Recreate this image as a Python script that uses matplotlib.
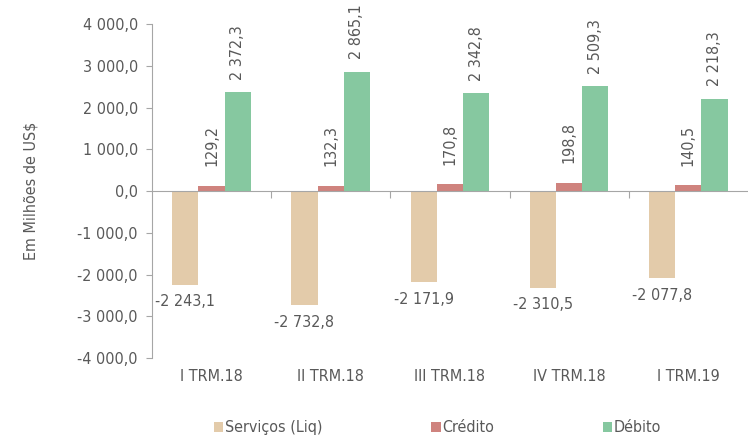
import numpy as np
import matplotlib
matplotlib.use("Agg")
import matplotlib.pyplot as plt
from matplotlib.ticker import FuncFormatter

plt.rcParams['font.family'] = ['DejaVu Sans']
plt.rcParams['font.stretch'] = 'condensed'

#------------------------------------------------------------------
categories = ["I TRM.18", "II TRM.18", "III TRM.18", "IV TRM.18", "I TRM.19"]
servicos   = [-2243.1, -2732.8, -2171.9, -2310.5, -2077.8]
credito    = [129.2, 132.3, 170.8, 198.8, 140.5]
debito     = [2372.3, 2865.1, 2342.8, 2509.3, 2218.3]

c_serv = "#E3CBAA"
c_cred = "#CF837E"
c_deb  = "#86C8A0"
txt    = "#595959"
axcol  = "#A6A6A6"
fs     = 11.5

#------------------------------------------------------------------
def fmt(v, decimals=1):
    s = f"{abs(v):,.{decimals}f}".replace(",", " ").replace(".", ",")
    return ("-" if v < 0 else "") + s

fig = plt.figure(figsize=(7.48, 4.41), dpi=100)
ax = fig.add_axes([0.203, 0.188, 0.797, 0.757])

x = np.arange(len(categories))
w = 0.22
b1 = ax.bar(x - w, servicos, w, color=c_serv, label="Serviços (Liq)")
b2 = ax.bar(x, credito, w, color=c_cred, label="Crédito")
b3 = ax.bar(x + w, debito, w, color=c_deb, label="Débito")

for i in range(len(categories)):
    ax.annotate(fmt(servicos[i]), (x[i] - w, servicos[i]), xytext=(0, -7),
                textcoords="offset points", ha="center", va="top",
                fontsize=fs, color=txt)
    ax.annotate(fmt(credito[i]), (x[i], credito[i]), xytext=(0, 14),
                textcoords="offset points", ha="center", va="bottom",
                rotation=90, fontsize=fs, color=txt)
    ax.annotate(fmt(debito[i]), (x[i] + w, debito[i]), xytext=(0, 9),
                textcoords="offset points", ha="center", va="bottom",
                rotation=90, fontsize=fs, color=txt)

ax.set_ylim(-4000, 4000)
ax.set_yticks(np.arange(-4000, 4001, 1000))
ax.yaxis.set_major_formatter(FuncFormatter(lambda v, p: fmt(v)))
ax.set_xlim(-0.5, len(categories) - 0.5)

# category labels at the bottom, ticks on the zero line between groups
ax.spines['bottom'].set_position(('data', 0))
ax.set_xticks(np.arange(0.5, len(categories) - 0.5, 1))
ax.set_xticklabels([])
ax.tick_params(axis='x', length=5, color=axcol, direction='out')
for i, c in enumerate(categories):
    ax.text(x[i], -4250, c, ha="center", va="top", fontsize=fs, color=txt)

for s in ['top', 'right']:
    ax.spines[s].set_visible(False)
ax.spines['left'].set_color(axcol)
ax.spines['bottom'].set_color(axcol)
ax.tick_params(axis='y', length=4, color=axcol, labelcolor=txt, labelsize=fs,
               pad=6)

ax.set_ylabel("Em Milhões de US$", fontsize=fs, color=txt, labelpad=28)

fig.legend(handles=[b1, b2, b3], loc="lower center", bbox_to_anchor=(0.585, -0.02),
           ncol=3, frameon=False, fontsize=fs, labelcolor=txt,
           handlelength=0.6, handleheight=0.6, handletextpad=0.1,
           columnspacing=6.8)

fig.savefig("out.png", dpi=100)
